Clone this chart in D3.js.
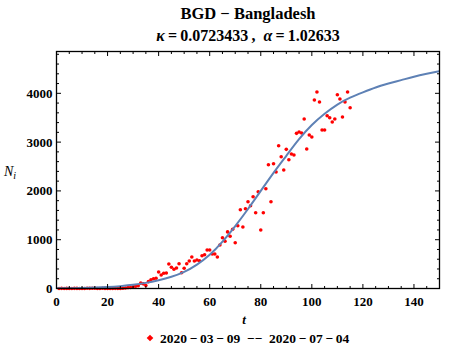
<!DOCTYPE html>
<html>
<head>
<meta charset="utf-8">
<script src="https://cdn.jsdelivr.net/npm/d3@7"></script>
<style>
html,body{margin:0;padding:0;background:#fff;}
svg{display:block;}
text{font-family:"Liberation Serif","Times New Roman",serif;}
</style>
</head>
<body>
<svg id="chart" width="450" height="345"></svg>
<script>
// ---- data ----
const firstDay = 1;
const dailyCases = [
  0,3,0,2,0,0,3,2,0,0,0,4,3,4,6,0,0,5,2,0,0,1,3,0,0,5,9,18,
  20,35,45,55,110,95,60,140,
  180,200,210,338,277,311,318,502,434,393,420,508,324,414,508,564,645,564,584,570,
  672,693,789,789,707,707,645,891,1040,967,1160,1070,1213,939,1287,1615,1260,1635,
  1779,1697,1881,1553,1984,1199,1553,2045,2537,1779,2557,2387,2926,2701,2428,2852,
  2639,2756,2736,3180,3207,3186,3473,2859,3145,3105,3863,4027,3822,3248,3248,3541,
  3500,3412,3473,3971,3883,3514,3822,4027,3705
];
const fitT = [0,10,20,25,30,35,40,45,50,55,60,65,70,75,80,85,90,95,100,105,110,115,120,125,130,135,140,145,150];
const fitN = [4,12,30,48,75,115,170,240,340,490,690,960,1280,1630,2000,2370,2720,3060,3350,3580,3770,3910,4020,4120,4200,4270,4340,4400,4455];
const xTicks = [0,20,40,60,80,100,120,140];
const yTicks = [0,1000,2000,3000,4000];
const titleLine1 = "BGD \u2212 Bangladesh";
const legendStart = "2020\u2009\u2212\u200903\u2009\u2212\u200909";
const legendEnd = "2020\u2009\u2212\u200907\u2009\u2212\u200904";

// ---- layout ----
const L = 56.5, R = 439.5, T = 51.5, B = 288.5;
const x = d3.scaleLinear().domain([0,150]).range([L,R]);
const y = d3.scaleLinear().domain([0,4857]).range([B,T]);
const svg = d3.select("#chart");

const pts = dailyCases.map((v,i)=>({t:firstDay+i, n:v}));

// points
svg.append("g").selectAll("circle").data(pts).join("circle")
  .attr("cx", d=>x(d.t)).attr("cy", d=>y(d.n)).attr("r", 1.8)
  .attr("fill", "#ff0000");

// fitted curve
const clipId = "plotclip";
svg.append("clipPath").attr("id", clipId).append("rect")
  .attr("x", L).attr("y", T).attr("width", R-L).attr("height", B-T);
svg.append("path")
  .datum(fitT.map((t,i)=>[t,fitN[i]]))
  .attr("clip-path", `url(#${clipId})`)
  .attr("fill","none").attr("stroke","#5e81b5").attr("stroke-width",2)
  .attr("d", d3.line().x(d=>x(d[0])).y(d=>y(d[1])).curve(d3.curveNatural));

// frame
svg.append("rect").attr("x",L).attr("y",T).attr("width",R-L).attr("height",B-T)
  .attr("fill","none").attr("stroke","#000").attr("stroke-width",1.3);

// ticks
const tickG = svg.append("g").attr("stroke","#000").attr("stroke-width",1);
d3.range(0,151,5).forEach(v=>{
  const len = (v % 20 === 0) ? 4.5 : 2.5;
  tickG.append("line").attr("x1",x(v)).attr("x2",x(v)).attr("y1",B).attr("y2",B-len);
  tickG.append("line").attr("x1",x(v)).attr("x2",x(v)).attr("y1",T).attr("y2",T+len);
});
d3.range(0,4857,200).forEach(v=>{
  const len = (v % 1000 === 0) ? 4.5 : 2.5;
  tickG.append("line").attr("y1",y(v)).attr("y2",y(v)).attr("x1",L).attr("x2",L+len);
  tickG.append("line").attr("y1",y(v)).attr("y2",y(v)).attr("x1",R).attr("x2",R-len);
});

// tick labels
svg.append("g").selectAll("text").data(xTicks).join("text")
  .attr("x", d=>x(d)).attr("y", 305.5).attr("text-anchor","middle")
  .attr("font-size",13).attr("font-weight","bold").text(d=>d);
svg.append("g").selectAll("text").data(yTicks).join("text")
  .attr("x", 52.5).attr("y", d=>y(d)+4.5).attr("text-anchor","end")
  .attr("font-size",13).attr("font-weight","bold").text(d=>d);

// axis labels
svg.append("text").attr("x",244).attr("y",324).attr("text-anchor","middle")
  .attr("font-size",13).attr("font-style","italic").attr("font-weight","bold").text("t");
const yl = svg.append("text").attr("x",4).attr("y",176).attr("font-size",14).attr("font-style","italic");
yl.append("tspan").text("N");
yl.append("tspan").attr("font-size",10).attr("dy",3).text("i");

// title
svg.append("text").attr("x",248).attr("y",19).attr("text-anchor","middle")
  .attr("font-size",16.5).attr("font-weight","bold").attr("xml:space","preserve").text(titleLine1);
const t2 = svg.append("text").attr("x",248).attr("y",41).attr("text-anchor","middle")
  .attr("font-size",16).attr("font-weight","bold");
t2.append("tspan").attr("font-style","italic").text("\u03ba");
t2.append("tspan").text("\u2009=\u20090.0723433\u2009,\u2002");
t2.append("tspan").attr("font-style","italic").text("\u03b1");
t2.append("tspan").text("\u2009=\u20091.02633");

// legend
svg.append("path").attr("d", d3.symbol(d3.symbolSquare, 22)())
  .attr("transform","translate(150,338) rotate(45)").attr("fill","#ff0000");
svg.append("text").attr("x",160).attr("y",342.5).attr("font-size",13.5).attr("font-weight","bold")
  .attr("xml:space","preserve")
  .text(legendStart + "  \u2212\u2212  " + legendEnd);
</script>
</body>
</html>
